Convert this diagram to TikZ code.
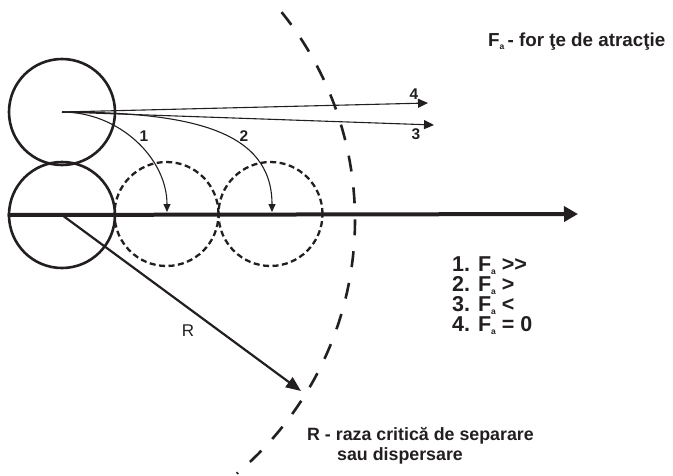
\documentclass[tikz,border=0pt]{standalone}
\usepackage{fontspec}
\setmainfont{Liberation Sans}
\usetikzlibrary{arrows.meta}
\definecolor{ink}{RGB}{35,31,32}
\newcommand\subsa{\raisebox{-3pt}{\fontsize{8.5}{9}\selectfont a}}
\begin{document}
\begin{tikzpicture}[x=1pt,y=-1pt,
 ball/.style={circle,draw=ink,line width=2.6pt,minimum size=106pt,inner sep=0pt},
 ghost/.style={circle,draw=ink,line width=2.3pt,dash pattern=on 6pt off 3.5pt,minimum size=104pt,inner sep=0pt},
 axisline/.style={draw=ink,line width=4pt,-{Triangle[length=14pt,width=15pt]}},
 thinarrow/.style={draw=ink,line width=1.1pt,-{Triangle[length=10pt,width=9pt]}},
 curvarrow/.style={draw=ink,line width=1.1pt,-{Triangle[length=8pt,width=7pt]}},
 rarrow/.style={draw=ink,line width=2.2pt,-{Triangle[length=15pt,width=12pt]}},
 bound/.style={draw=ink,line width=2.6pt,dash pattern=on 16pt off 16pt},
 bigtext/.style={font=\fontsize{17.8}{20}\selectfont\bfseries,text=ink,inner sep=0pt,anchor=base west},
 listtext/.style={font=\fontsize{21.5}{20}\selectfont\bfseries,text=ink,inner sep=0pt,anchor=base west},
 smalltext/.style={font=\fontsize{15.5}{16}\selectfont\bfseries,text=ink,inner sep=0pt},
]
\useasboundingbox (0,0) rectangle (673,475);

% critical boundary
\draw[bound] plot[domain=-38.9:50,samples=90,smooth] ({24+331*cos(\x)},{220+331*sin(\x)});

% particles
\node[ball] (top) at (62,112) {};
\node[ball] (bot) at (62,215) {};
\node[ghost] (d1) at (166.5,214) {};
\node[ghost] (d2) at (270.5,214) {};

% coordinates
\coordinate (axend) at (578,214);
\coordinate (e3) at (434,125);
\coordinate (e4) at (428,103);
\coordinate (rend) at (301,391);
\coordinate (t1) at (167,212);
\coordinate (t2) at (272,212);

% axis
\draw[axisline] (bot.west) -- (axend);

% trajectories
\draw[thinarrow] (top.center) -- (e4);
\draw[thinarrow] (top.center) -- (e3);
\draw[curvarrow] (top.center) .. controls (119,112) and (167,158) .. (t1);
\draw[curvarrow] (top.center) .. controls (190,112) and (272,130) .. (t2);

% radius
\draw[rarrow] (bot.center) -- (rend);

% labels
\node[smalltext] (l1) at (144,136) {1};
\node[smalltext] (l2) at (244,136) {2};
\node[smalltext] (l3) at (416,134) {3};
\node[smalltext] (l4) at (414,94) {4};
\node[font=\fontsize{17}{18}\selectfont,text=ink,inner sep=0pt] (lR) at (188,331) {R};

\node[font=\fontsize{18.8}{20}\selectfont\bfseries,text=ink,inner sep=0pt,anchor=base west] (title) at (488,46) {F\subsa\,- for ţe de atracţie};

\node[listtext] (c1) at (452,271) {1. F\subsa\ >\kern0pt>};
\node[listtext] (c2) at (452,291) {2. F\subsa\ >};
\node[listtext] (c3) at (452,311) {3. F\subsa\ <};
\node[listtext] (c4) at (452,331) {4. F\subsa\ = 0};

\node[bigtext] (rl1) at (307,440) {R - raza critică de separare};
\node[bigtext] (rl2) at (337,460) {sau dispersare};
\end{tikzpicture}
\end{document}
